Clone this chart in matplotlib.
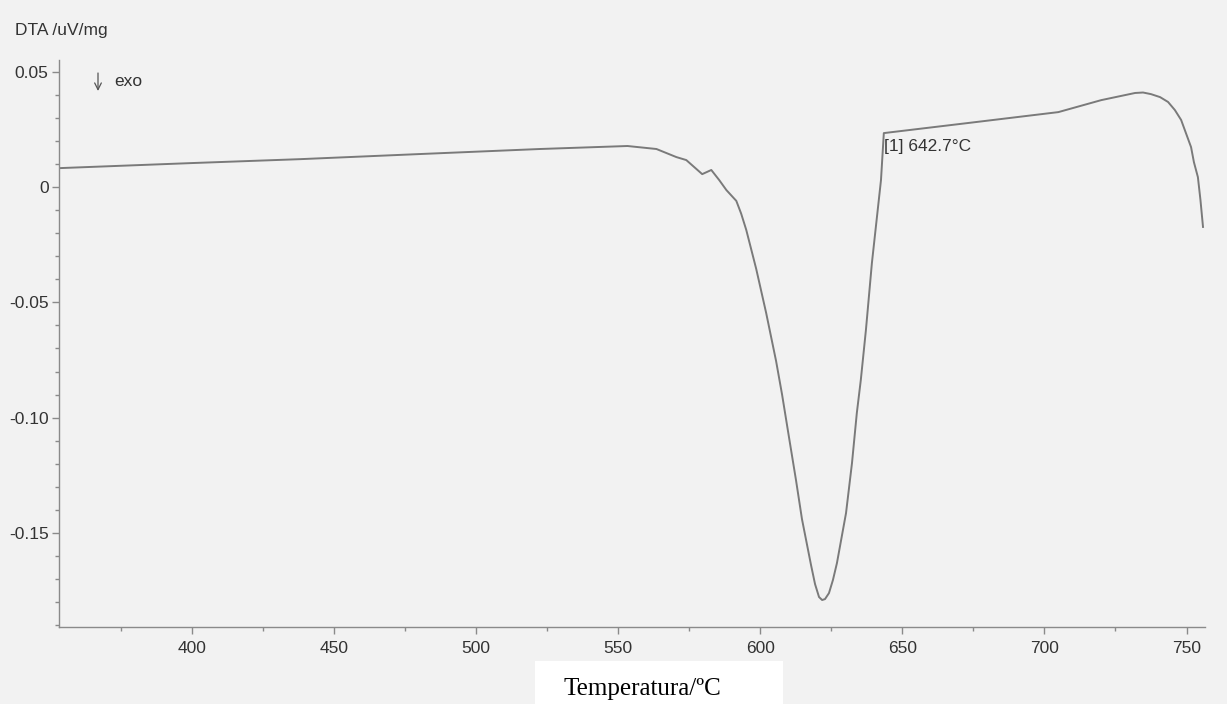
import numpy as np
import matplotlib
matplotlib.use('Agg')
import matplotlib.pyplot as plt
from matplotlib.ticker import MultipleLocator
from matplotlib.patches import Rectangle

# DTA curve (temperature in C, signal in uV/mg)
temp = [353.3, 400.0, 438.2, 480.0, 522.5, 553.3, 563.5, 570.5, 574.0, 579.6,
        582.8, 585.6, 588.1, 591.6, 593.3, 595.1, 596.8, 598.6, 602.1, 605.6,
        607.7, 610.2, 612.6, 614.7, 617.9, 619.3, 620.7, 621.8, 622.8, 624.2,
        625.6, 627.0, 630.2, 632.3, 634.0, 635.4, 637.2, 639.3, 642.5, 643.5,
        673.3, 704.9, 720.0, 731.9, 734.7, 737.5, 740.7, 743.5, 745.9, 748.1,
        751.6, 752.6, 754.0, 754.9, 755.8]
dta = [0.0082, 0.0104, 0.0121, 0.0143, 0.0165, 0.0178, 0.0165, 0.0130, 0.0117, 0.0056,
       0.0074, 0.0030, -0.0013, -0.0060, -0.0115, -0.0186, -0.0268, -0.0355, -0.0546, -0.0755,
       -0.0900, -0.1090, -0.1271, -0.1440, -0.1640, -0.1722, -0.1778, -0.1791, -0.1787, -0.1761,
       -0.1704, -0.1631, -0.1414, -0.1197, -0.0980, -0.0837, -0.0620, -0.0330, 0.0030, 0.0234,
       0.0278, 0.0325, 0.0377, 0.0408, 0.0410, 0.0403, 0.0390, 0.0369, 0.0334, 0.0291,
       0.0173, 0.0108, 0.0043, -0.0056, -0.0173]

xticks = [400, 450, 500, 550, 600, 650, 700, 750]
yticks = [0.05, 0, -0.05, -0.10, -0.15]
ytick_labels = ['0.05', '0', '-0.05', '-0.10', '-0.15']

plt.rcParams['font.family'] = ['Liberation Sans', 'DejaVu Sans']

W, H = 1227, 704
bg = '#f2f2f2'
fig = plt.figure(figsize=(W / 100, H / 100), dpi=100, facecolor=bg)
ax = fig.add_axes([59 / W, 1 - 627 / H, 1146 / W, 567 / H])
ax.set_facecolor(bg)

ax.plot(temp, dta, color='#7a7a7a', lw=1.4, solid_joinstyle='round')

ax.set_xlim(353.3, 756.5)
ax.set_ylim(-0.1908, 0.0551)

ax.set_xticks(xticks)
ax.set_yticks(yticks, labels=ytick_labels)
ax.xaxis.set_minor_locator(MultipleLocator(25))
ax.yaxis.set_minor_locator(MultipleLocator(0.01))

for s in ['top', 'right']:
    ax.spines[s].set_visible(False)
for s in ['left', 'bottom']:
    ax.spines[s].set_color('#8a8a8a')
    ax.spines[s].set_linewidth(1.0)

ax.tick_params(which='major', length=5, width=1, color='#8a8a8a',
               labelsize=12.5, labelcolor='#333333')
ax.tick_params(which='minor', length=3, width=1, color='#8a8a8a')
ax.tick_params(axis='x', which='major', pad=5)
ax.tick_params(axis='y', which='major', pad=2.5)

fig.text(15 / W, 1 - 31 / H, 'DTA /uV/mg', fontsize=12.5, color='#333333',
         va='center', ha='left')

# "exo" marker with a thin down arrow
ax.annotate('', xy=(98 / W, 1 - 91 / H), xytext=(98 / W, 1 - 73 / H),
            xycoords='figure fraction', textcoords='figure fraction',
            arrowprops=dict(arrowstyle='->', lw=0.9, color='#555555',
                            shrinkA=0, shrinkB=0, mutation_scale=12))
fig.text(114 / W, 1 - 82 / H, 'exo', fontsize=12.5, color='#333333',
         va='center', ha='left')

ax.text(643.7, 0.0175, '[1] 642.7\u00b0C', fontsize=12.5, color='#333333',
        va='center', ha='left')

# white paper strip behind the axis title
fig.patches.append(Rectangle((535 / W, 0), 248 / W, 43 / H, transform=fig.transFigure,
                             facecolor='white', edgecolor='none', zorder=-1))
fig.text(642 / W, 1 - 689 / H, 'Temperatura/\u00baC',
         family=['Liberation Serif', 'DejaVu Serif'],
         fontsize=18, color='black', ha='center', va='center')

fig.savefig('out.png', dpi=100, facecolor=bg)
